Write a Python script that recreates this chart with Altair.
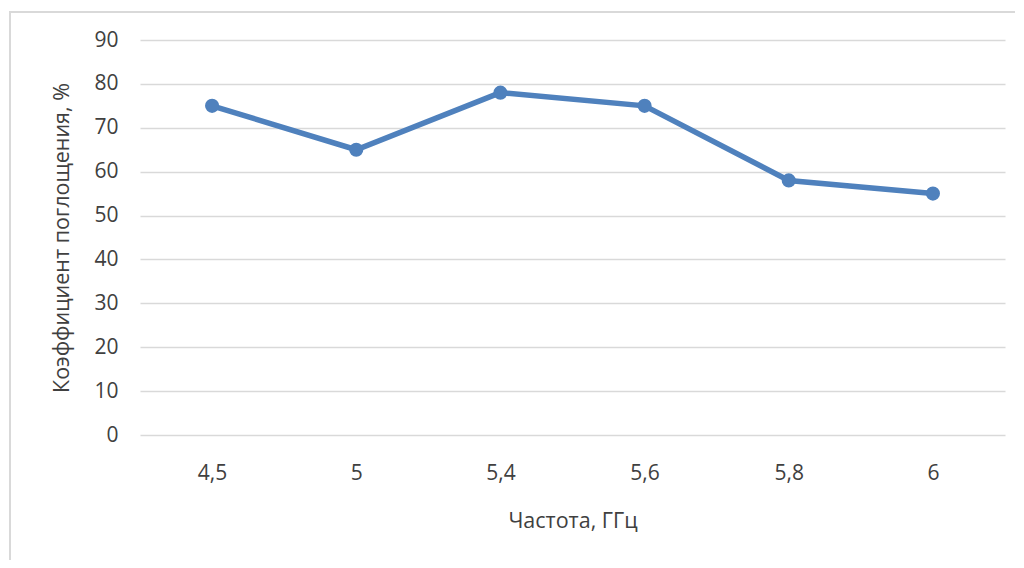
import altair as alt
import pandas as pd

freq = ["4,5", "5", "5,4", "5,6", "5,8", "6"]
absorb = [75, 65, 78, 75, 58, 55]
y_ticks = [0, 10, 20, 30, 40, 50, 60, 70, 80, 90]

df = pd.DataFrame({"freq": freq, "absorb": absorb})

FONT = "Open Sans"
BLUE = "#4F81BD"
TXT = "#404040"
W, H = 865, 395

base = alt.Chart(df).encode(
    x=alt.X("freq:N", sort=freq,
            scale=alt.Scale(paddingOuter=0.5, paddingInner=0),
            axis=alt.Axis(title="Частота, ГГц", labelAngle=0, labelFontSize=21,
                          labelColor=TXT, labelFont=FONT, labelPadding=27,
                          domain=False, ticks=False, grid=False,
                          titleFont=FONT, titleFontSize=21.5, titleFontWeight="normal",
                          titleColor=TXT, titlePadding=27)),
    y=alt.Y("absorb:Q", scale=alt.Scale(domain=[0, 90], nice=False),
            axis=alt.Axis(title="Коэффициент поглощения, %", values=y_ticks,
                          labelFontSize=21, labelColor=TXT, labelFont=FONT,
                          labelPadding=22, domain=False, ticks=False,
                          gridColor="#D9D9D9", gridWidth=1.5,
                          titleFont=FONT, titleFontSize=21.5, titleFontWeight="normal",
                          titleColor=TXT, titlePadding=20)),
)

border = alt.Chart(df).mark_rect(fill=None, stroke="#D9D9D9", strokeWidth=1.5, clip=False).encode(
    x=alt.value(-130), x2=alt.value(880), y=alt.value(-28), y2=alt.value(H + 200)
)

line = base.mark_line(color=BLUE, strokeWidth=5.5)
pts = base.mark_circle(color=BLUE, size=200, opacity=1)

chart = alt.layer(border, line, pts).properties(
    width=W, height=H,
    background="white",
    autosize=alt.AutoSizeParams(type="none"),
    padding={"left": 132, "top": 32, "right": 10, "bottom": 125},
).configure_view(strokeWidth=0, stroke="transparent")

chart.save("out.html", embed_options={"renderer": "svg", "actions": False})
